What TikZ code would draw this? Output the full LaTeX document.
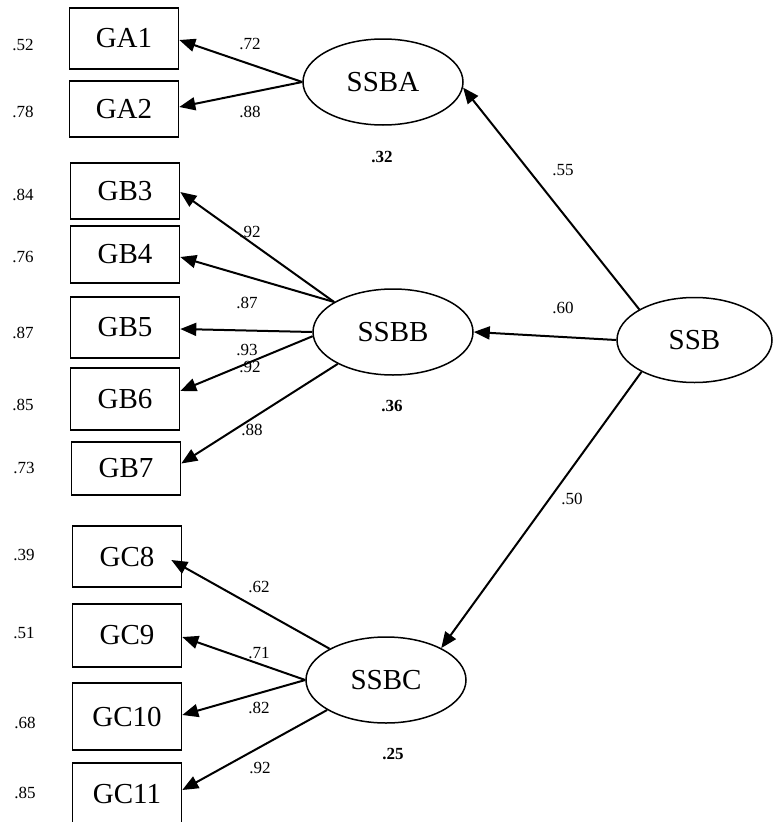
\documentclass[tikz,border=0pt]{standalone}
\usepackage{fontspec}
\setmainfont{Liberation Serif}
\usetikzlibrary{shapes.geometric,arrows.meta,calc}
\begin{document}
\begin{tikzpicture}[x=1pt,y=-1pt,
  obs/.style={draw, line width=1.6pt, minimum width=109pt, inner sep=0pt,
    font=\fontsize{29}{31}\selectfont},
  lat/.style={draw, ellipse, line width=1.5pt, minimum width=160pt,
    minimum height=86pt, inner sep=0pt, font=\fontsize{29}{31}\selectfont},
  coef/.style={font=\fontsize{17}{19}\selectfont, inner sep=0pt},
  errv/.style={font=\fontsize{17}{19}\selectfont, inner sep=0pt},
  rsq/.style={font=\bfseries\fontsize{17}{19}\selectfont, inner sep=0pt},
  load/.style={line width=2pt, -{Triangle[length=16pt,width=13pt]}}
]
\useasboundingbox (0,0) rectangle (772,822);

% observed indicators
\node[obs, minimum height=61pt] (GA1)  at (124,38.5)  {GA1};
\node[obs, minimum height=56pt] (GA2)  at (124,109)   {GA2};
\node[obs, minimum height=56pt] (GB3)  at (125,191)   {GB3};
\node[obs, minimum height=57pt] (GB4)  at (125,254.5) {GB4};
\node[obs, minimum height=61pt] (GB5)  at (125,327.5) {GB5};
\node[obs, minimum height=62pt] (GB6)  at (125,399)   {GB6};
\node[obs, minimum height=53pt] (GB7)  at (126,468.5) {GB7};
\node[obs, minimum height=61pt] (GC8)  at (127,556.5) {GC8};
\node[obs, minimum height=63pt] (GC9)  at (127,635.5) {GC9};
\node[obs, minimum height=67pt] (GC10) at (127,716.5) {GC10};
\node[obs, minimum height=62pt] (GC11) at (127,794)   {GC11};

% error variances
\node[errv] (eGA1)  at (23,45)  {.52};
\node[errv] (eGA2)  at (23,112) {.78};
\node[errv] (eGB3)  at (23,195) {.84};
\node[errv] (eGB4)  at (23,257) {.76};
\node[errv] (eGB5)  at (23,333) {.87};
\node[errv] (eGB6)  at (23,405) {.85};
\node[errv] (eGB7)  at (24,468) {.73};
\node[errv] (eGC8)  at (24,555) {.39};
\node[errv] (eGC9)  at (24,633) {.51};
\node[errv] (eGC10) at (25,723) {.68};
\node[errv] (eGC11) at (25,793) {.85};

% latent factors
\node[lat] (SSBA) at (383,82)  {SSBA};
\node[lat] (SSBB) at (393,332) {SSBB};
\node[lat] (SSBC) at (386,680) {SSBC};
\node[lat, minimum width=155pt, minimum height=85pt] (SSB) at (694.5,340) {SSB};

% explained variances
\node[rsq] (rSSBA) at (382,157) {.32};
\node[rsq] (rSSBB) at (392,406) {.36};
\node[rsq] (rSSBC) at (393,754) {.25};

% second-order paths
\draw[load] (SSB.151) -- (SSBA.-4);
\draw[load] (SSB.west) -- (SSBB.east);
\draw[load] (SSB.211) -- (SSBC.30);
\node[coef] (p55) at (563,170) {.55};
\node[coef] (p60) at (563,308) {.60};
\node[coef] (p50) at (572,499) {.50};

% first-order loadings
\draw[load] (SSBA.west) -- ($(GA1.east)+(0,1.5)$);
\draw[load] (SSBA.west) -- ($(GA2.east)+(0,-2)$);
\node[coef] (lGA1) at (250,44)  {.72};
\node[coef] (lGA2) at (250,112) {.88};

\draw[load] (SSBB.153) -- ($(GB3.east)+(0,1)$);
\draw[load] (SSBB.153) -- ($(GB4.east)+(0,2.5)$);
\draw[load] (SSBB.west) -- ($(GB5.east)+(0,1.5)$);
\draw[load] (SSBB.183) -- ($(GB6.east)+(0,-8)$);
\draw[load] (SSBB.210) -- ($(GB7.east)+(0,-5)$);
\node[coef] (lGB3) at (250,232) {.92};
\node[coef] (lGB4) at (247,303) {.87};
\node[coef] (lGB5) at (247,350) {.93};
\node[coef] (lGB6) at (250,367) {.92};
\node[coef] (lGB7) at (252,430) {.88};

\draw[load] (SSBC.151) -- ($(GC8.east)+(-11,3.5)$);
\draw[load] (SSBC.west) -- ($(GC9.east)+(0,1.5)$);
\draw[load] (SSBC.west) -- ($(GC10.east)+(0,-1.5)$);
\draw[load] (SSBC.207) -- ($(GC11.east)+(0,-4)$);
\node[coef] (lGC8)  at (259,587) {.62};
\node[coef] (lGC9)  at (259,653) {.71};
\node[coef] (lGC10) at (259,708) {.82};
\node[coef] (lGC11) at (260,768) {.92};
\end{tikzpicture}
\end{document}
